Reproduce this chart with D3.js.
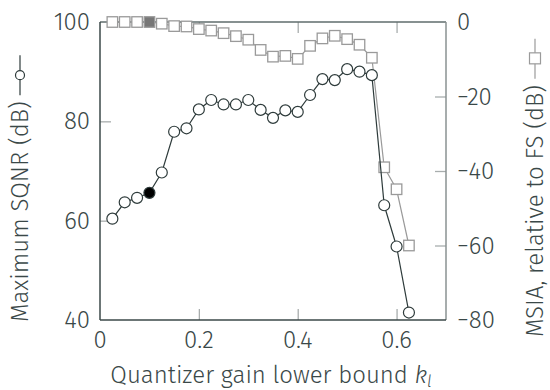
<!DOCTYPE html>
<html lang="en">
<head>
    <meta charset="UTF-8">
    <title>SQNR and MSIA vs quantizer gain</title>
    <script src="https://d3js.org/d3.v7.min.js"></script>
    <style>
        body { margin: 0; background: #fff; }
        text { font-family: "Fira Sans", "Open Sans", "Noto Sans", sans-serif; font-weight: 300; fill: #3a4848; }
    </style>
</head>
<body>
    <svg id="chart" width="550" height="390"></svg>
    <script>
        // lower bound of the quantizer gain
        const kLower = [0.025, 0.05, 0.075, 0.1, 0.125, 0.15, 0.175, 0.2, 0.225, 0.25,
                        0.275, 0.3, 0.325, 0.35, 0.375, 0.4, 0.425, 0.45, 0.475, 0.5,
                        0.525, 0.55, 0.575, 0.6, 0.625];
        // maximum SQNR (dB), left axis
        const sqnr = [60.4, 63.7, 64.6, 65.6, 69.7, 77.9, 78.6, 82.4, 84.3, 83.4,
                      83.4, 84.3, 82.3, 80.7, 82.2, 81.9, 85.3, 88.5, 88.3, 90.5,
                      90.0, 89.3, 63.1, 54.8, 41.5];
        // MSIA relative to FS (dB), right axis
        const msia = [0, 0, 0, 0, -0.45, -1.1, -1.2, -1.9, -2.3, -3.0,
                      -3.8, -4.75, -7.5, -9.3, -9.1, -9.9, -6.4, -4.4, -3.7, -4.6,
                      -6.1, -9.6, -39.0, -44.9, -60.0];
        const highlightK = 0.1;

        const xTicks = [0, 0.2, 0.4, 0.6];
        const leftTicks = [40, 60, 80, 100];
        const rightTicks = [-80, -60, -40, -20, 0];

        const svg = d3.select("#chart");
        const margin = {top: 22, right: 104, bottom: 70, left: 100};
        const width = +svg.attr("width") - margin.left - margin.right;
        const height = +svg.attr("height") - margin.top - margin.bottom;

        const g = svg.append("g")
            .attr("transform", `translate(${margin.left},${margin.top})`);

        const x = d3.scaleLinear().domain([0, 0.7]).range([0, width]);
        const yL = d3.scaleLinear().domain([40, 100]).range([height, 0]);
        const yR = d3.scaleLinear().domain([-80, 0]).range([height, 0]);

        const tickLen = 11;
        const tickColor = "#a8adad";

        // inward ticks drawn as separate axes without labels
        function inner(axis) {
            return axis.tickSize(tickLen).tickFormat("");
        }
        const tickStyle = sel => {
            sel.select(".domain").remove();
            sel.selectAll("line").attr("stroke", tickColor).attr("stroke-width", 1.3);
        };

        g.append("g").attr("transform", `translate(0,${height})`)
            .call(inner(d3.axisTop(x).tickValues(xTicks.slice(1)))).call(tickStyle);
        g.append("g")
            .call(inner(d3.axisBottom(x).tickValues(xTicks.slice(1)))).call(tickStyle);
        g.append("g")
            .call(inner(d3.axisRight(yL).tickValues(leftTicks.slice(1, -1)))).call(tickStyle);
        g.append("g").attr("transform", `translate(${width},0)`)
            .call(inner(d3.axisLeft(yR).tickValues(rightTicks.slice(1, -1)))).call(tickStyle);

        // frame
        g.append("line").attr("x1", 0).attr("x2", width).attr("y1", 0).attr("y2", 0)
            .attr("stroke", "#5f6d6d").attr("stroke-width", 1.5);
        g.append("line").attr("x1", width).attr("x2", width).attr("y1", 0).attr("y2", height)
            .attr("stroke", "#8a9292").attr("stroke-width", 1.5);
        g.append("line").attr("x1", 0).attr("x2", 0).attr("y1", 0).attr("y2", height)
            .attr("stroke", "#3b4949").attr("stroke-width", 1.5);
        g.append("line").attr("x1", 0).attr("x2", width).attr("y1", height).attr("y2", height)
            .attr("stroke", "#3b4949").attr("stroke-width", 1.5);

        // tick labels
        const fs = 24;
        g.selectAll(".xl").data(xTicks).enter().append("text")
            .attr("x", d => x(d)).attr("y", height + 28)
            .attr("text-anchor", "middle").style("font-size", fs + "px")
            .text(d => d === 0 ? "0" : d3.format(".1f")(d));
        g.selectAll(".yl").data(leftTicks).enter().append("text")
            .attr("x", -10).attr("y", d => yL(d) + 8)
            .attr("text-anchor", "end").style("font-size", fs + "px")
            .text(d => d);
        g.selectAll(".yr").data(rightTicks).enter().append("text")
            .attr("x", width + 11).attr("y", d => yR(d) + 8)
            .attr("text-anchor", "start").style("font-size", fs + "px")
            .text(d => d < 0 ? "\u2212" + (-d) : d);

        const pts = kLower.map((k, i) => ({k, s: sqnr[i], m: msia[i]}));

        // MSIA series (squares)
        const grey = "#9a9a9a";
        g.append("path").datum(pts)
            .attr("fill", "none").attr("stroke", grey).attr("stroke-width", 1.2)
            .attr("d", d3.line().x(d => x(d.k)).y(d => yR(d.m)));
        const sq = 10.5;
        g.selectAll(".sq").data(pts).enter().append("rect")
            .attr("x", d => x(d.k) - sq / 2).attr("y", d => yR(d.m) - sq / 2)
            .attr("width", sq).attr("height", sq)
            .attr("fill", d => d.k === highlightK ? "#777" : "#fff")
            .attr("stroke", grey).attr("stroke-width", 1.3);

        // SQNR series (circles)
        const dark = "#2e3b3b";
        g.append("path").datum(pts)
            .attr("fill", "none").attr("stroke", dark).attr("stroke-width", 1.2)
            .attr("d", d3.line().x(d => x(d.k)).y(d => yL(d.s)));
        g.selectAll(".ci").data(pts).enter().append("circle")
            .attr("cx", d => x(d.k)).attr("cy", d => yL(d.s)).attr("r", 5.5)
            .attr("fill", d => d.k === highlightK ? "#000" : "#fff")
            .attr("stroke", dark).attr("stroke-width", 1.2);

        // axis titles with legend symbols
        const leftT = svg.append("g").attr("transform", `translate(20,${margin.top + height + 2}) rotate(-90)`);
        const lt = leftT.append("text").attr("x", 0).attr("y", 8)
            .style("font-size", fs + "px").text("Maximum SQNR (dB)");
        const lL = lt.node().getComputedTextLength();
        leftT.append("line").attr("x1", lL + 6).attr("x2", lL + 46).attr("y1", 0).attr("y2", 0)
            .attr("stroke", dark).attr("stroke-width", 1.2);
        leftT.append("circle").attr("cx", lL + 26).attr("cy", 0).attr("r", 4.5)
            .attr("fill", "#fff").attr("stroke", dark).attr("stroke-width", 1.2);

        const rightT = svg.append("g").attr("transform", `translate(535,${margin.top + height + 17}) rotate(-90)`);
        const rt = rightT.append("text").attr("x", 0).attr("y", 8)
            .style("font-size", fs + "px").text("MSIA, relative to FS (dB)");
        const rL = rt.node().getComputedTextLength();
        rightT.append("line").attr("x1", rL + 6).attr("x2", rL + 46).attr("y1", 0).attr("y2", 0)
            .attr("stroke", grey).attr("stroke-width", 1.2);
        rightT.append("rect").attr("x", rL + 21).attr("y", -5.5).attr("width", 11).attr("height", 11)
            .attr("fill", "#fff").attr("stroke", grey).attr("stroke-width", 1.2);

        const xt = svg.append("text")
            .attr("x", margin.left + width / 2 - 2).attr("y", 383)
            .attr("text-anchor", "middle").style("font-size", fs + "px");
        xt.append("tspan").text("Quantizer gain lower bound ");
        xt.append("tspan").style("font-style", "italic").text("k");
        xt.append("tspan").style("font-style", "italic").style("font-size", "16px")
            .attr("dy", 4).text("l");
    </script>
</body>
</html>
